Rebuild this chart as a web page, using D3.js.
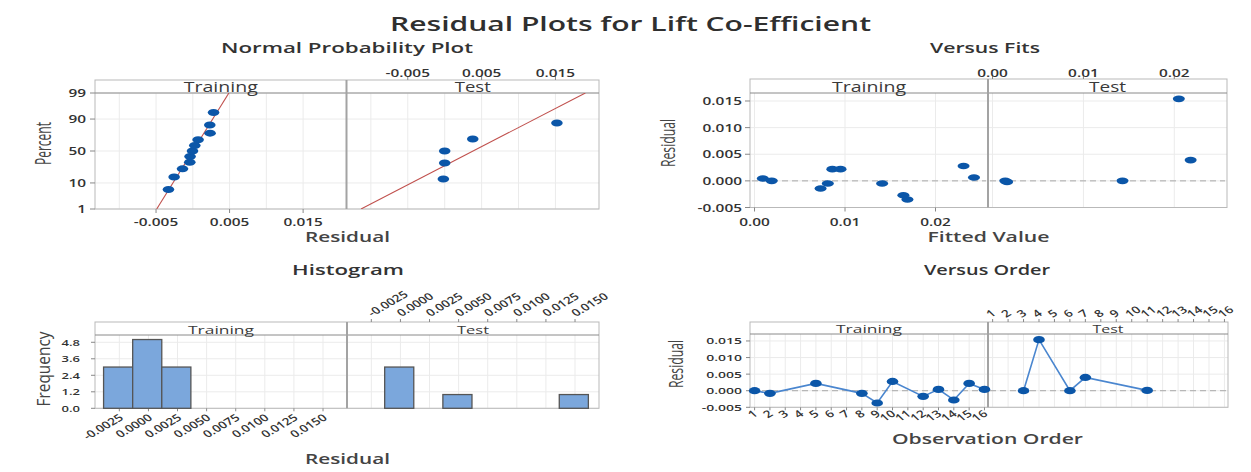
<!DOCTYPE html>
<html><head><meta charset="utf-8">
<script src="https://cdn.jsdelivr.net/npm/d3@7"></script>
<style>body{margin:0;background:#fff}svg{display:block}text{font-family:"Open Sans",sans-serif}</style>
</head><body><svg id="c" width="1251" height="472"></svg>
<script>
// ---------------- DATA ----------------
const chartTitle = "Residual Plots for Lift Co-Efficient";
const panelTitles = ["Normal Probability Plot", "Versus Fits", "Histogram", "Versus Order"];
const facetNames = ["Training", "Test"];

// Normal probability plot (residual, percent)
const npTrainResid = [-0.00331, -0.00254, -0.00140, -0.00041, -0.00037, -0.00004, 0.00027, 0.00072, 0.00235, 0.00231, 0.00282];
const npTrainPct   = [6.1, 14.9, 23.7, 32.5, 41.2, 50.0, 58.8, 67.5, 76.3, 85.1, 93.9];
const npTestResid  = [-0.00018, 0.0000, 0.0000, 0.0038, 0.0152];
const npTestPct    = [13.0, 31.5, 50.0, 68.5, 87.0];
const npLineMean   = [0.0000, 0.00386];   // fitted line per facet
const npLineSD     = [0.00211, 0.00653];
const npPctTicks   = [1, 10, 50, 90, 99];
const npXGrid      = [-0.01, -0.005, 0, 0.005, 0.01, 0.015];
const npXTicks     = [-0.005, 0.005, 0.015];
const npXLabels    = ["-0.005", "0.005", "0.015"];

// Versus fits
const fitsTrainX = [0.00092, 0.0019, 0.0073, 0.0081, 0.0086, 0.0095, 0.0141, 0.01645, 0.0169, 0.0231, 0.02425];
const fitsTrainY = [0.00045, 0.0000, -0.00144, -0.0005, 0.0022, 0.0022, -0.0005, -0.0027, -0.0035, 0.0028, 0.00064];
const fitsTestX  = [0.0014, 0.0016, 0.0143, 0.0205, 0.0218];
const fitsTestY  = [0.0000, -0.0002, 0.0000, 0.0154, 0.0039];
const fitsXTicks = [0, 0.01, 0.02];
const fitsXLabels = ["0.00", "0.01", "0.02"];
const resYTicks  = [-0.005, 0, 0.005, 0.010, 0.015];
const resYLabels = ["-0.005", "0.000", "0.005", "0.010", "0.015"];

// Histogram
const histBinWidth = 0.0025;
const histTrainMid = [-0.0025, 0.0000, 0.0025];
const histTrainFreq = [3, 5, 3];
const histTestMid = [0.0000, 0.0050, 0.0150];
const histTestFreq = [3, 1, 1];
const histXTicks = [-0.0025, 0, 0.0025, 0.005, 0.0075, 0.01, 0.0125, 0.015];
const histXLabels = ["-0.0025", "0.0000", "0.0025", "0.0050", "0.0075", "0.0100", "0.0125", "0.0150"];
const histYTicks = [0, 1.2, 2.4, 3.6, 4.8];
const histYLabels = ["0.0", "1.2", "2.4", "3.6", "4.8"];

// Versus order
const ordTrainObs = [1, 2, 5, 8, 9, 10, 12, 13, 14, 15, 16];
const ordTrainRes = [0.0000, -0.0008, 0.0022, -0.0008, -0.0037, 0.0028, -0.0017, 0.0004, -0.0028, 0.0022, 0.0004];
const ordTestObs  = [3, 4, 6, 7, 11];
const ordTestRes  = [0.0000, 0.0154, 0.0000, 0.0040, 0.0001];
const ordXTicks   = [1, 2, 3, 4, 5, 6, 7, 8, 9, 10, 11, 12, 13, 14, 15, 16];

// ---------------- STYLE ----------------
const C = {text:"#333", axis:"#444", grid:"#ebebeb", frame:"#b9b9b9", strip:"#8a8a8a", divider:"#a3a3a3",
  point:"#0b56a8", line:"#4a86cf", fit:"#c0504d", bar:"#7ba7dc", barStroke:"#555", ref:"#a9a9a9"};
const KT = 1.4;    // horizontal stretch of tick text

const svg = d3.select("#c");
const defs = svg.append("defs");
let clipId = 0;

function T(g, s, x, y, o = {}) {
  const t = g.append("text").text(s)
    .attr("transform", `translate(${x},${y}) scale(${o.k ?? 1},1) rotate(${o.r ?? 0})`)
    .attr("font-size", o.size ?? 11).attr("font-weight", o.w ?? 600)
    .attr("text-anchor", o.a ?? "middle").attr("fill", o.fill ?? C.text);
  if (o.len) t.attr("textLength", o.len).attr("lengthAdjust", "spacingAndGlyphs");
  return t;
}
function hline(g, x1, x2, y, st, w = 1, dash) {
  const l = g.append("line").attr("x1", x1).attr("x2", x2).attr("y1", y).attr("y2", y)
    .attr("stroke", st).attr("stroke-width", w);
  if (dash) l.attr("stroke-dasharray", dash);
  return l;
}
function vline(g, x, y1, y2, st, w = 1) {
  return g.append("line").attr("x1", x).attr("x2", x).attr("y1", y1).attr("y2", y2)
    .attr("stroke", st).attr("stroke-width", w);
}
function clipFor(x0, x1, y0, y1) {
  const id = "cl" + (clipId++);
  defs.append("clipPath").attr("id", id).append("rect")
    .attr("x", x0).attr("y", y0).attr("width", x1 - x0).attr("height", y1 - y0);
  return `url(#${id})`;
}
function frame(g, P, stripSize) {
  g.append("rect").attr("x", P.L).attr("y", P.T).attr("width", P.R - P.L).attr("height", P.B - P.T)
    .attr("fill", "none").attr("stroke", C.frame);
  hline(g, P.L, P.R, P.S, C.strip, 1);
  vline(g, P.D, P.T, P.B, C.divider, 2);
  const facets = [[P.L, P.D], [P.D, P.R]];
  facets.forEach((f, i) => T(g, facetNames[i], (f[0] + f[1]) / 2, P.S - 1.5,
    {size: stripSize, w: 500, fill: "#3a3a3a", len: P.stripLen[i]}));
}
function points(g, xs, ys, sx, sy, rx, ry) {
  g.selectAll(null).data(xs.map((x, i) => [x, ys[i]])).join("ellipse")
    .attr("cx", d => sx(d[0])).attr("cy", d => sy(d[1])).attr("rx", rx).attr("ry", ry)
    .attr("fill", C.point);
}

// ---------------- TITLES ----------------
T(svg, chartTitle, 630.5, 31, {size: 19, w: 600, len: 481, fill: "#2f2f2f"});
T(svg, panelTitles[0], 347, 53, {size: 14.5, w: 600, len: 252});
T(svg, panelTitles[1], 985, 53, {size: 14.5, w: 600, len: 110});
T(svg, panelTitles[2], 348, 275, {size: 14.5, w: 600, len: 112});
T(svg, panelTitles[3], 987, 275, {size: 14.5, w: 600, len: 126});

// ---------------- NORMAL PROBABILITY PLOT ----------------
function probit(p) {
  const a = [-3.969683028665376e+01, 2.209460984245205e+02, -2.759285104469687e+02, 1.383577518672690e+02, -3.066479806614716e+01, 2.506628277459239e+00];
  const b = [-5.447609879822406e+01, 1.615858368580409e+02, -1.556989798598866e+02, 6.680131188771972e+01, -1.328068155288572e+01];
  const c = [-7.784894002430293e-03, -3.223964580411365e-01, -2.400758277161838e+00, -2.549732539343734e+00, 4.374664141464968e+00, 2.938163982698783e+00];
  const d = [7.784695709041462e-03, 3.224671290700398e-01, 2.445134137142996e+00, 3.754408661907416e+00];
  const pl = 0.02425; let q, r;
  if (p < pl) { q = Math.sqrt(-2 * Math.log(p)); return (((((c[0]*q+c[1])*q+c[2])*q+c[3])*q+c[4])*q+c[5]) / ((((d[0]*q+d[1])*q+d[2])*q+d[3])*q+1); }
  if (p <= 1 - pl) { q = p - 0.5; r = q*q; return (((((a[0]*r+a[1])*r+a[2])*r+a[3])*r+a[4])*r+a[5])*q / (((((b[0]*r+b[1])*r+b[2])*r+b[3])*r+b[4])*r+1); }
  q = Math.sqrt(-2 * Math.log(1 - p)); return -(((((c[0]*q+c[1])*q+c[2])*q+c[3])*q+c[4])*q+c[5]) / ((((d[0]*q+d[1])*q+d[2])*q+d[3])*q+1);
}
{
  const P = {L: 95, R: 599, D: 346.5, T: 80, S: 93, B: 209, stripLen: [74, 36]};
  const g = svg.append("g");
  const zTop = probit(0.99), zBot = probit(0.01);
  const y = d3.scaleLinear().domain([zBot, zTop]).range([P.B, P.S]);
  const yp = p => y(probit(p / 100));
  const xs = [[P.L, P.D], [P.D, P.R]].map(f => d3.scaleLinear().domain([-0.0133, 0.0209]).range(f));
  xs.forEach((x, i) => {
    npXGrid.forEach(v => vline(g, x(v), P.S, P.B, C.grid));
    npPctTicks.forEach(p => hline(g, x.range()[0], x.range()[1], yp(p), C.grid));
  });
  frame(g, P, 14);
  // y axis
  npPctTicks.forEach(p => {
    hline(g, P.L - 5, P.L, yp(p), "#888");
    T(g, String(p), 86, yp(p) + 4, {a: "end", size: 11, k: KT});
  });
  // x axes
  npXTicks.forEach((v, i) => {
    vline(g, xs[0](v), P.B, P.B + 4, "#888");
    T(g, npXLabels[i], xs[0](v), 225.5, {size: 11, k: KT});
    vline(g, xs[1](v), P.T - 4, P.T, "#888");
    T(g, npXLabels[i], xs[1](v), 76.5, {size: 11, k: KT});
  });
  const sets = [[npTrainResid, npTrainPct], [npTestResid, npTestPct]];
  sets.forEach((s, i) => {
    const x = xs[i];
    const gc = g.append("g").attr("clip-path", clipFor(x.range()[0], x.range()[1], P.S, P.B));
    gc.append("line")
      .attr("x1", x(npLineMean[i] + npLineSD[i] * zBot)).attr("y1", y(zBot))
      .attr("x2", x(npLineMean[i] + npLineSD[i] * zTop)).attr("y2", y(zTop))
      .attr("stroke", C.fit).attr("stroke-width", 1.1);
    points(g, s[0], s[1], x, yp, 5.8, 3.5);
  });
  T(g, "Percent", 50.5, 143.5, {r: -90, size: 14, w: 500, k: 1.55, len: 43, fill: C.axis});
  T(g, "Residual", 347.5, 242, {size: 14, w: 600, len: 85, fill: C.axis});
}

// ---------------- VERSUS FITS ----------------
{
  const P = {L: 750, R: 1227, D: 988, T: 79, S: 93, B: 207.5, stripLen: [74, 37]};
  const g = svg.append("g");
  const y = d3.scaleLinear().domain([-0.005, 0.0165]).range([P.B, P.S]);
  const xs = [[P.L, P.D], [P.D, P.R]].map(f => d3.scaleLinear().domain([-0.0005, 0.0258]).range(f));
  xs.forEach(x => {
    fitsXTicks.forEach(v => vline(g, x(v), P.S, P.B, C.grid));
    resYTicks.forEach(v => hline(g, x.range()[0], x.range()[1], y(v), C.grid));
    hline(g, x.range()[0] + 2, x.range()[1] - 2, y(0), C.ref, 1, "6,4");
  });
  frame(g, P, 14);
  resYTicks.forEach((v, i) => {
    hline(g, P.L - 5, P.L, y(v), "#888");
    T(g, resYLabels[i], 742, y(v) + 4, {a: "end", size: 11, k: KT});
  });
  fitsXTicks.forEach((v, i) => {
    vline(g, xs[0](v), P.B, P.B + 4, "#888");
    T(g, fitsXLabels[i], xs[0](v), 225.5, {size: 11, k: KT});
    vline(g, xs[1](v), P.T - 4, P.T, "#888");
    T(g, fitsXLabels[i], xs[1](v), 76.5, {size: 11, k: KT});
  });
  points(g, fitsTrainX, fitsTrainY, xs[0], y, 6, 3.3);
  points(g, fitsTestX, fitsTestY, xs[1], y, 6, 3.3);
  T(g, "Residual", 675, 143, {r: -90, size: 14, w: 500, k: 1.45, len: 48, fill: C.axis});
  T(g, "Fitted Value", 988.5, 242, {size: 14, w: 600, len: 122, fill: C.axis});
}

// ---------------- HISTOGRAM ----------------
{
  const P = {L: 95, R: 599, D: 347, T: 322, S: 335, B: 408.3, stripLen: [66, 32]};
  const g = svg.append("g");
  const y = d3.scaleLinear().domain([0, 5.33]).range([P.B, P.S]);
  const xs = [[P.L, P.D], [P.D, P.R]].map(f => d3.scaleLinear().domain([-0.00459, 0.01706]).range(f));
  xs.forEach(x => {
    histXTicks.forEach(v => vline(g, x(v), P.S, P.B, C.grid));
    histYTicks.forEach(v => hline(g, x.range()[0], x.range()[1], y(v), C.grid));
  });
  frame(g, P, 11.5);
  histYTicks.forEach((v, i) => {
    hline(g, P.L - 4, P.L, y(v), "#888");
    T(g, histYLabels[i], 80, y(v) + 3.5, {a: "end", size: 9, k: 1.45});
  });
  histXTicks.forEach((v, i) => {
    vline(g, xs[0](v), P.B, P.B + 3, "#888");
    T(g, histXLabels[i], xs[0](v) + 5, 419, {a: "end", size: 10, k: 1.35, r: -38});
    vline(g, xs[1](v), P.T - 3, P.T, "#888");
    T(g, histXLabels[i], xs[1](v) + 1, 317, {a: "start", size: 10, k: 1.35, r: -38});
  });
  const sets = [[histTrainMid, histTrainFreq], [histTestMid, histTestFreq]];
  sets.forEach((s, i) => {
    const x = xs[i];
    g.selectAll(null).data(s[0].map((m, j) => [m, s[1][j]])).join("rect")
      .attr("x", d => x(d[0] - histBinWidth / 2) - 1.2)
      .attr("width", d => x(d[0] + histBinWidth / 2) - x(d[0] - histBinWidth / 2))
      .attr("y", d => y(d[1])).attr("height", d => y(0) - y(d[1]))
      .attr("fill", C.bar).attr("stroke", C.barStroke).attr("stroke-width", 1.3);
  });
  T(g, "Frequency", 50, 369, {r: -90, size: 14, w: 500, k: 1.28, len: 75, fill: C.axis});
  T(g, "Residual", 347.5, 464, {size: 14, w: 600, len: 85, fill: C.axis});
}

// ---------------- VERSUS ORDER ----------------
{
  const P = {L: 750, R: 1228, D: 988, T: 322, S: 334, B: 407.3, stripLen: [66, 31]};
  const g = svg.append("g");
  const y = d3.scaleLinear().domain([-0.005, 0.0171]).range([P.B, P.S]);
  const xs = [[P.L, P.D], [P.D, P.R]].map(f => d3.scaleLinear().domain([0.7, 16.23]).range(f));
  xs.forEach(x => {
    ordXTicks.forEach(v => vline(g, x(v), P.S, P.B, C.grid));
    resYTicks.forEach(v => hline(g, x.range()[0], x.range()[1], y(v), C.grid));
    hline(g, x.range()[0] + 2, x.range()[1] - 2, y(0), C.ref, 1, "6,4");
  });
  frame(g, P, 11.5);
  resYTicks.forEach((v, i) => {
    hline(g, P.L - 4, P.L, y(v), "#888");
    T(g, resYLabels[i], 742, y(v) + 3.5, {a: "end", size: 9, k: 1.55});
  });
  ordXTicks.forEach(v => {
    vline(g, xs[0](v), P.B, P.B + 3, "#888");
    T(g, String(v), xs[0](v) + 4, 415, {a: "end", size: 10, k: 1.35, r: -38});
    vline(g, xs[1](v), P.T - 3, P.T, "#888");
    T(g, String(v), xs[1](v) - 2, 318, {a: "start", size: 10, k: 1.35, r: -38});
  });
  const sets = [[ordTrainObs, ordTrainRes], [ordTestObs, ordTestRes]];
  sets.forEach((s, i) => {
    const x = xs[i];
    const pts = s[0].map((o, j) => [o, s[1][j]]);
    g.append("path").datum(pts)
      .attr("d", d3.line().x(d => x(d[0])).y(d => y(d[1])))
      .attr("fill", "none").attr("stroke", C.line).attr("stroke-width", 1.6);
    points(g, s[0], s[1], x, y, 5.8, 3.6);
  });
  T(g, "Residual", 683, 364, {r: -90, size: 14, w: 500, k: 1.45, len: 48, fill: C.axis});
  T(g, "Observation Order", 987.5, 444, {size: 14, w: 600, len: 191, fill: C.axis});
}
</script></body></html>
